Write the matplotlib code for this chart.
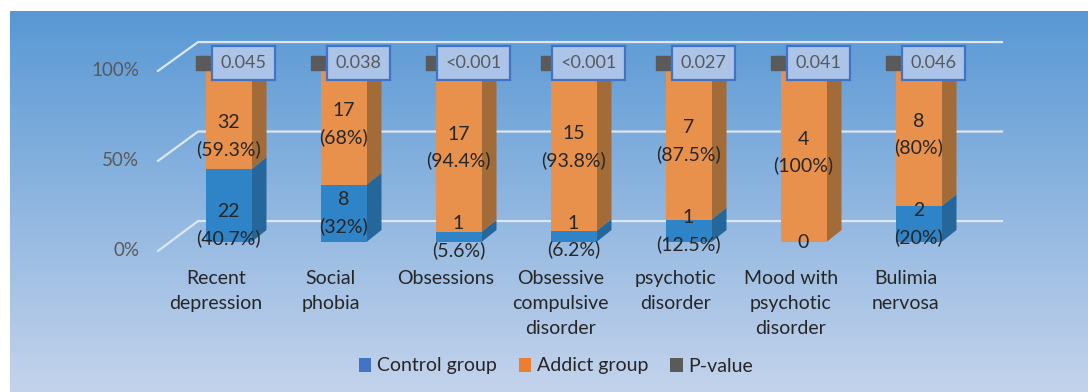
import matplotlib
matplotlib.use("Agg")
import matplotlib.pyplot as plt
from matplotlib.patches import Polygon, Patch
import numpy as np

plt.rcParams["font.family"] = ["Lato", "DejaVu Sans"]

categories = ["Recent\ndepression", "Social\nphobia", "Obsessions",
              "Obsessive\ncompulsive\ndisorder", "psychotic\ndisorder",
              "Mood with\npsychotic\ndisorder", "Bulimia\nnervosa"]
control_n = [22, 8, 1, 1, 1, 0, 2]
control_pct = [40.7, 32, 5.6, 6.2, 12.5, 0, 20]
addict_n = [32, 17, 17, 15, 7, 4, 8]
addict_pct = [59.3, 68, 94.4, 93.8, 87.5, 100, 80]
p_values = ["0.045", "0.038", "<0.001", "<0.001", "0.027", "0.041", "0.046"]
grid_ticks = [0, 50, 100]

blue_front, blue_side = "#2e84c6", "#25679a"
orange_front, orange_side, orange_top = "#e8914d", "#a26b38", "#f0a565"
legend_cols = ["#4472c4", "#ed7d31", "#5a5a5a"]
dark = "#262626"
gray = "#595959"

W, H = 1088, 392
fig = plt.figure(figsize=(W / 100, H / 100), dpi=100)

# gradient background (white margin on top/left like the screenshot)
bg = fig.add_axes([10 / W, 0, 1 - 10 / W, 381 / H])
top_c = np.array([88, 152, 212]) / 255
bot_c = np.array([196, 211, 236]) / 255
t = np.linspace(0, 1, 256)[:, None]
grad = top_c * (1 - t) + bot_c * t
bg.imshow(grad[:, None, :], aspect="auto", extent=[0, 1, 0, 1])
bg.axis("off")

# main axes: x = category index, y = percent
ax = fig.add_axes([0, 0, 1, 1])
ax.patch.set_alpha(0)
px_per_cat = 115.0
px_per_pct = 1.79
x0_px, y0_px = 228.5, 150.0
ax.set_xlim(-x0_px / px_per_cat, (W - x0_px) / px_per_cat)
ax.set_ylim(-y0_px / px_per_pct, (H - y0_px) / px_per_pct)
ax.axis("off")

# 3D-ish floor / wall gridlines
fx, bx, ex = -0.613, -0.265, 6.726
for v in grid_ticks:
    yf, yb = v * 1.006 - 5.0, v + 11.7
    ax.plot([fx, bx, ex], [yf, yb, yb], color="#dde6f3", lw=1.6, zorder=1)
    ax.text(-0.778, yf, f"{v}%", ha="right", va="center", fontsize=13.5, color=gray)

n = len(categories)
x = np.arange(n)
w = 46 / px_per_cat
ddx, ddy = 15 / px_per_cat, 12 / px_per_pct


def side_face(xc, lo, hi, color):
    xr = xc + w / 2
    ax.add_patch(Polygon([(xr, lo), (xr + ddx, lo + ddy), (xr + ddx, hi + ddy), (xr, hi)],
                         closed=True, facecolor=color, edgecolor="none", zorder=2))


ax.bar(x, control_pct, width=w, color=blue_front, zorder=3)
ax.bar(x, addict_pct, width=w, bottom=control_pct, color=orange_front, zorder=3)

for i in range(n):
    c = control_pct[i]
    if c > 0:
        side_face(x[i], 0, c, blue_side)
    side_face(x[i], c, 100, orange_side)
    xl = x[i] - w / 2
    ax.add_patch(Polygon([(xl, 100), (xl + w, 100), (xl + w + ddx, 100 + ddy), (xl + ddx, 100 + ddy)],
                         closed=True, facecolor=orange_top, edgecolor="none", zorder=2))

    # first column's labels sit a bit lower in the original
    shift = -11 if i == 0 else 0
    if control_n[i] > 0:
        ax.text(x[i], c / 2 + shift, f"{control_n[i]}\n({control_pct[i]:g}%)", ha="center",
                va="center", fontsize=14, color=dark, linespacing=1.6, zorder=5)
    else:
        ax.text(x[i], 0, "0", ha="center", va="center", fontsize=14, color=dark, zorder=5)
    ax.text(x[i], c + addict_pct[i] / 2 + shift, f"{addict_n[i]}\n({addict_pct[i]:g}%)",
            ha="center", va="center", fontsize=14, color=dark, linespacing=1.6, zorder=5)

    # p-value label with legend key
    ax.scatter([x[i] - 0.222], [100], marker="s", s=100, color=legend_cols[2], zorder=6)
    ax.text(x[i] + 0.13, 100, p_values[i], ha="center", va="center", fontsize=13,
            color=gray, zorder=7,
            bbox=dict(boxstyle="square,pad=0.48", facecolor="#abc4e8",
                      edgecolor="#4472c4", lw=1.6))

    # category label
    ax.text(x[i] - 0.11, -15.5, categories[i], ha="center", va="top", fontsize=14,
            color=dark, linespacing=1.58)

handles = [Patch(facecolor=col) for col in legend_cols]
fig.legend(handles, ["Control group", "Addict group", "P-value"], loc="center",
           bbox_to_anchor=(556 / W, 1 - 366 / H), ncol=3, frameon=False,
           fontsize=14, handlelength=0.65, handleheight=0.7, handletextpad=0.3,
           columnspacing=1.1, labelcolor=dark)

fig.savefig("out.png", dpi=100)
